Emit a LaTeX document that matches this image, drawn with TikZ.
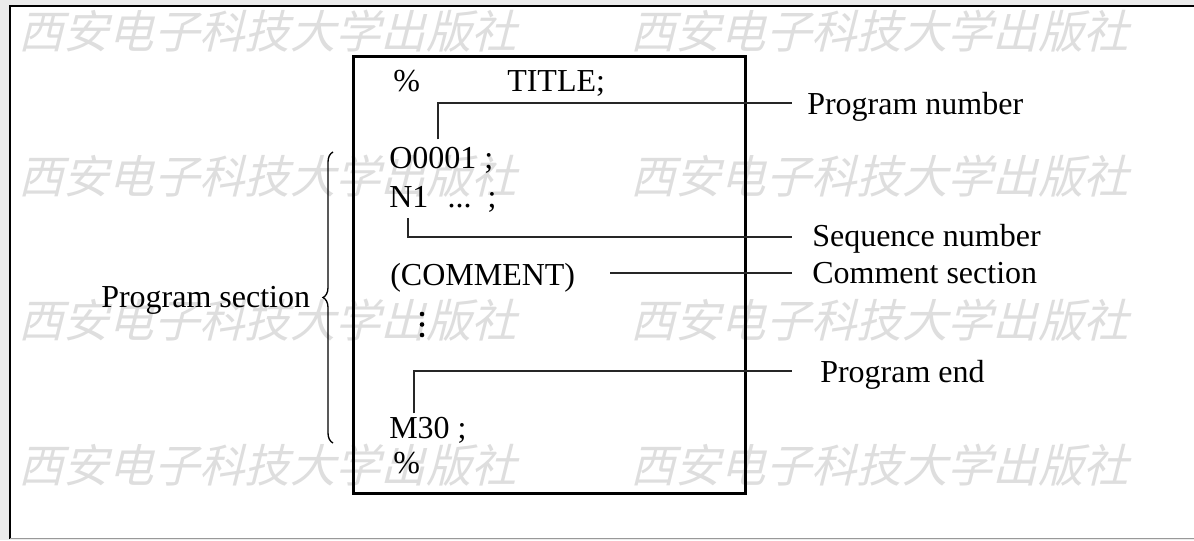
\documentclass[tikz,border=0pt]{standalone}
\usepackage{fontspec}
\setmainfont{Liberation Serif}
\newfontfamily\wmfont[FakeSlant=0.25]{Noto Sans CJK SC}
\usetikzlibrary{decorations.pathreplacing}
\tikzset{
  txt/.style={anchor=base west, inner sep=0pt, font=\fontsize{24}{28}\selectfont},
  wm/.style={anchor=west, inner sep=0pt, text=black!13, font=\wmfont\fontsize{34}{38}\selectfont},
  conn/.style={draw=black!85, line width=1.3pt},
}
\begin{document}
\begin{tikzpicture}[x=0.75pt,y=-0.75pt]
\useasboundingbox (0,0) rectangle (1194,540);
% page background and frame
\fill[black!8] (0,0) rectangle (1194,540);
\fill[white] (10,6) rectangle (1194,538);
\draw[line width=1.6pt] (9,6) -- (1194,6);
\draw[line width=1.6pt] (10,6) -- (10,539);
\draw[black!40, line width=0.9pt] (10,538.5) -- (1194,538.5);
% watermark
\foreach \yy/\k in {31/1,176/2,320/3,465/4}{
  \node[wm] (wmL\k) at (18,\yy) {西安电子科技大学出版社};
  \node[wm] (wmR\k) at (630,\yy) {西安电子科技大学出版社};
}
% main box
\node[draw, line width=2.2pt, inner sep=0pt, minimum width=392*0.75pt, minimum height=437*0.75pt, anchor=north west] (box) at (352,55) {};
% program lines
\node[txt] (pct1) at (393,91) {\%};
\node[txt] (title) at (507,91) {TITLE;};
\node[txt] (o1) at (389,168) {O0001 ;};
\node[txt] (n1) at (389,207) {N1\hspace{0.6em}...\hspace{0.5em};};
\node[txt] (cmt) at (390,285) {(COMMENT)};
\fill (422,314) circle (2.3) (422,324.5) circle (2.3) (422,335) circle (2.3);
\node[txt] (m30) at (389,438) {M30 ;};
\node[txt] (pct2) at (393,473) {\%};
% labels
\node[txt] (pn) at (807,114) {Program number};
\node[txt] (sn) at (812,246) {Sequence number};
\node[txt] (cs) at (812,283) {Comment section};
\node[txt] (pe) at (820,382) {Program end};
\node[txt] (ps) at (101,307) {Program section};
% connectors
\draw[conn] ([shift={(49,-7)}]o1.north west) |- ([shift={(-15,-11)}]pn.base west);
\draw[conn] ([shift={(19,6)}]n1.south west) |- ([shift={(-20,-9)}]sn.base west);
\draw[conn] ([shift={(35,-12)}]cmt.base east) -- ([shift={(-20,-10)}]cs.base west);
\draw[conn] ([shift={(25,-3)}]m30.north west) |- ([shift={(-28,-11)}]pe.base west);
% brace
\draw[line width=1pt, decorate, decoration={brace, amplitude=7.5pt}] (333,443) -- (333,152);
\end{tikzpicture}
\end{document}
